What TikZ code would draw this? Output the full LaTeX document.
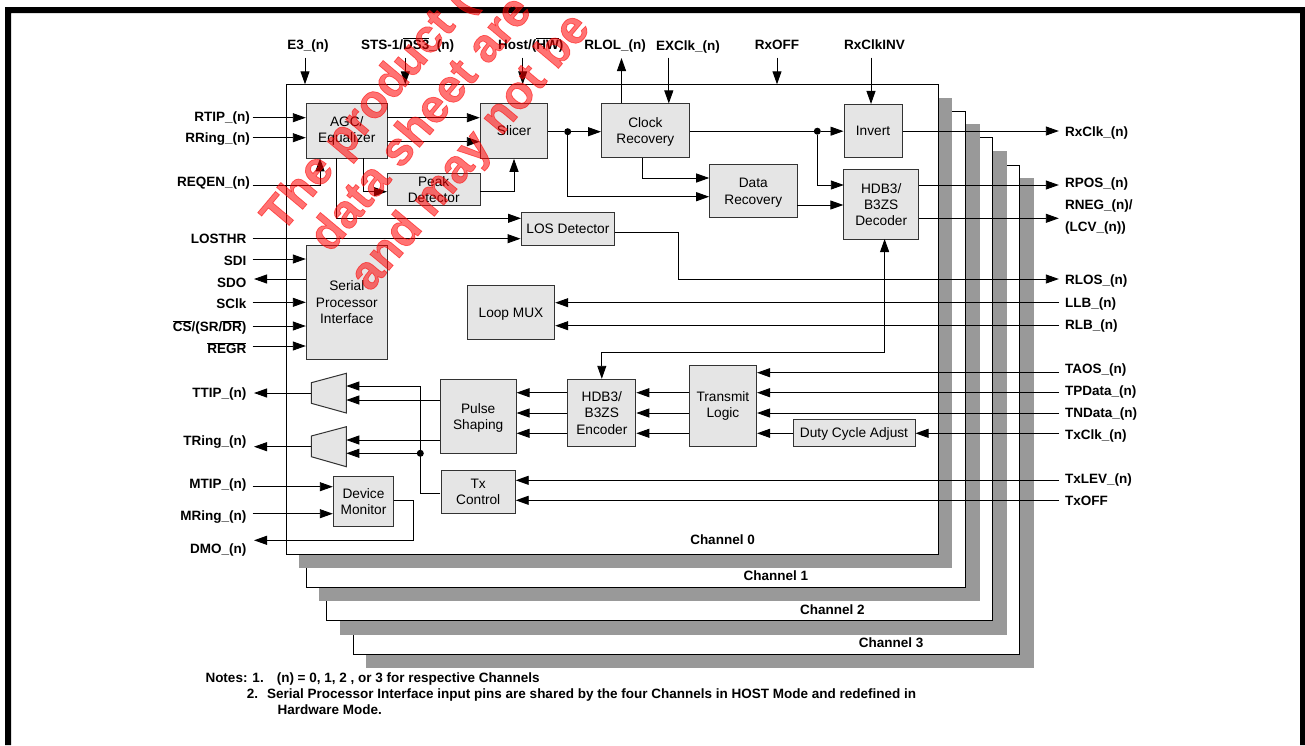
\documentclass[tikz,border=0pt]{standalone}
\usepackage{fontspec}
\setmainfont{Liberation Sans}
\newfontfamily\stampfont[FakeBold=1.5]{Liberation Sans Bold}
\usetikzlibrary{positioning,arrows.meta}

\begin{document}
\begin{tikzpicture}[x=1pt,y=-1pt,on grid,>={Triangle[length=13pt,width=9pt]},
link/.style={->,line width=.9pt},
wire/.style={line width=.9pt},
block/.style={draw=black!80,line width=1pt,fill=black!10,inner sep=0pt,align=center,
 font=\fontsize{13.7}{16.4}\selectfont},
sigl/.style={anchor=east,inner sep=0pt,text height=9.7pt,text depth=0pt,font=\fontsize{13.5}{15}\selectfont\bfseries},
sigr/.style={anchor=west,inner sep=0pt,text height=9.7pt,text depth=0pt,font=\fontsize{13.5}{15}\selectfont\bfseries},
sigt/.style={inner sep=0pt,text height=9.7pt,text depth=0pt,font=\fontsize{13.5}{15}\selectfont\bfseries},
chname/.style={inner sep=0pt,text height=9.7pt,text depth=0pt,font=\fontsize{13.5}{15}\selectfont\bfseries},
note/.style={anchor=west,inner sep=0pt,text height=9.7pt,text depth=0pt,font=\fontsize{13.5}{15}\selectfont\bfseries},
dot/.style={circle,fill=black,inner sep=0pt,minimum size=7pt},
chshadow/.style={fill=black!40},
chframe/.style={draw=black,line width=1pt,fill=white},
stamp/.style={anchor=base west,rotate=50,inner sep=0pt,text=red,text opacity=.55,
 font=\fontsize{47}{47}\stampfont}]
\useasboundingbox (0,0) rectangle (1305,745);
% page edge
\fill (5,745) -- (5,7) -- (1305,7) -- (1305,745) -- (1300,745) -- (1300,13) -- (11,13) -- (11,745) -- cycle;
% channel sheets
\fill[chshadow] (366.3,178) rectangle (1033.5,668.3);
\draw[chframe] (353.3,165) rectangle (1019.6,654);
\fill[chshadow] (339.7,151) rectangle (1007,635);
\draw[chframe] (326.7,137.7) rectangle (992.7,620.7);
\fill[chshadow] (319.3,124.3) rectangle (979.6,601);
\draw[chframe] (306.3,111) rectangle (965.8,587.3);
\fill[chshadow] (299,98) rectangle (952,568);
\draw[chframe] (286.3,84.3) rectangle (938.8,554);
\coordinate (chtop) at (286.3,84.3);
\node[chname] (ch0) at (722.5,540) {Channel 0};
\node[chname] (ch1) at (775.8,576) {Channel 1};
\node[chname] (ch2) at (832.3,610) {Channel 2};
\node[chname] (ch3) at (891,643) {Channel 3};
% blocks
\node[block,minimum width=81pt,minimum height=55pt] (agc) at (346.8,130.8) {AGC/\\Equalizer};
\node[block,minimum width=67.4pt,minimum height=55pt] (slicer) [right = 167.2pt of agc] {Slicer};
\node[block,minimum width=93.3pt,minimum height=32pt] (peak) [below right = 58.5pt and 86.9pt of agc] {Peak\\Detector};
\node[block,minimum width=93.7pt,minimum height=33.3pt] (los) [below right = 97.9pt and 53.9pt of slicer] {LOS Detector};
\node[block,minimum width=81pt,minimum height=113.7pt] (serial) [below = 171.4pt of agc] {Serial\\Processor\\Interface};
\node[block,minimum width=87.4pt,minimum height=53.6pt,text depth=0pt] (loopmux) at (511,312.5) {Loop MUX};
\node[block,minimum width=75.7pt,minimum height=73.6pt,text depth=0pt] (pulse) at (478.2,416.5) {Pulse\\Shaping};
\node[block,minimum width=74pt,minimum height=43pt] (txctl) [below = 75.3pt of pulse] {Tx\\Control};
\node[block,minimum width=60.4pt,minimum height=50pt] (devmon) at (363.5,501.7) {Device\\Monitor};
\node[block,minimum width=87.7pt,minimum height=53.7pt,text depth=0pt] (clkrec) [right = 131.4pt of slicer] {Clock\\Recovery};
\node[block,minimum width=88pt,minimum height=53.3pt,text depth=0pt] (datarec) [below right = 60.5pt and 107.9pt of clkrec] {Data\\Recovery};
\node[block,minimum width=58pt,minimum height=52.7pt] (invert) [right = 227.6pt of clkrec] {Invert};
\node[block,minimum width=74.7pt,minimum height=69.3pt] (decoder) [below right = 73.7pt and 8.2pt of invert] {HDB3/\\B3ZS\\Decoder};
\node[block,minimum width=68pt,minimum height=67.4pt] (encoder) at (601.8,413) {HDB3/\\B3ZS\\Encoder};
\node[block,minimum width=67.3pt,minimum height=81.7pt] (txlogic) at (722.9,405.9) {Transmit\\Logic};
\node[block,minimum width=122pt,minimum height=27.4pt,text depth=0pt] (duty) at (854,433) {Duty Cycle Adjust};
% output stages
\draw[draw=black!80,line width=1pt,fill=black!10] (311.3,382.7) -- (346.3,373.3) -- (346.3,413) -- (311.3,403.3) -- cycle;
\draw[draw=black!80,line width=1pt,fill=black!10] (311.3,436) -- (346.3,426.7) -- (346.3,466.7) -- (311.3,456.7) -- cycle;
\coordinate (muxatop) at (346.3,386);
\coordinate (muxabot) at (346.3,400);
\coordinate (muxbtop) at (346.3,440);
\coordinate (muxbbot) at (346.3,453.3);
\coordinate (muxaout) at (311.3,393);
\coordinate (muxbout) at (311.3,446.7);
% pin names
\node[sigt] (e3) at (308,44.5) {E3\_(n)};
\node[sigt] (sts) at (407.7,44.5) {STS-1/$\overline{\mbox{DS3}}$\_(n)};
\node[sigt] (host) at (530.7,44.5) {Host/($\overline{\mbox{HW}}$)};
\node[sigt] (rlol) at (615,44.5) {RLOL\_(n)};
\node[sigt] (exclk) at (688,46) {EXClk\_(n)};
\node[sigt] (rxoff) at (777,44.5) {RxOFF};
\node[sigt] (rxinv) at (874.6,44.5) {RxClkINV};
\node[sigl] (rtip) at (250,116.5) {RTIP\_(n)};
\node[sigl] (rring) at (250,138) {RRing\_(n)};
\node[sigl] (reqen) at (250,182) {REQEN\_(n)};
\node[sigl] (losthr) at (246.5,238.5) {LOSTHR};
\node[sigl] (sdi) at (246.5,261) {SDI};
\node[sigl] (sdo) at (246.5,283) {SDO};
\node[sigl] (sclk) at (246.5,304) {SClk};
\node[sigl] (cs) at (246.5,327) {$\overline{\mbox{CS}}$/(SR/$\overline{\mbox{DR}}$)};
\node[sigl] (regr) at (246.5,349) {$\overline{\mbox{REGR}}$};
\node[sigl] (ttip) at (246.5,393) {TTIP\_(n)};
\node[sigl] (tring) at (246.5,441) {TRing\_(n)};
\node[sigl] (mtip) at (246.5,484) {MTIP\_(n)};
\node[sigl] (mring) at (246.5,516) {MRing\_(n)};
\node[sigl] (dmo) at (246.5,549) {DMO\_(n)};
\node[sigr] (rxclk) at (1065,131.5) {RxClk\_(n)};
\node[sigr] (rpos) at (1065,183) {RPOS\_(n)};
\node[sigr] (rneg) at (1065,205) {RNEG\_(n)/};
\node[sigr] (lcv) at (1065,227) {(LCV\_(n))};
\node[sigr] (rlos) at (1065,280) {RLOS\_(n)};
\node[sigr] (llb) at (1065,303) {LLB\_(n)};
\node[sigr] (rlb) at (1065,325) {RLB\_(n)};
\node[sigr] (taos) at (1065,369) {TAOS\_(n)};
\node[sigr] (tpdata) at (1065,391) {TPData\_(n)};
\node[sigr] (tndata) at (1065,413) {TNData\_(n)};
\node[sigr] (txclk) at (1065,435) {TxClk\_(n)};
\node[sigr] (txlev) at (1065,479) {TxLEV\_(n)};
\node[sigr] (txoff) at (1065,501) {TxOFF};
% free ends of the pin lines
\coordinate (e3end) at (305,57.7);
\coordinate (stsend) at (405.3,57.7);
\coordinate (hostend) at (522.7,57.7);
\coordinate (rlolend) at (621.5,58);
\coordinate (exclkend) at (668.8,57.7);
\coordinate (rxoffend) at (777,57.7);
\coordinate (rxinvend) at (871,57.7);
\coordinate (rtipend) at (252.7,117.7);
\coordinate (rringend) at (252.7,137.7);
\coordinate (reqenend) at (252.7,185);
\coordinate (losthrend) at (252.7,238.7);
\coordinate (sdiend) at (252.7,259);
\coordinate (sdoend) at (254,279);
\coordinate (sclkend) at (252.7,302.3);
\coordinate (csend) at (252.7,326);
\coordinate (regrend) at (252.7,346);
\coordinate (ttipend) at (254,393);
\coordinate (tringend) at (254,446.7);
\coordinate (mtipend) at (252.7,486.7);
\coordinate (mringend) at (252.7,513.7);
\coordinate (dmoend) at (254,540.3);
\coordinate (rxclkend) at (1058.8,131);
\coordinate (rposend) at (1058.8,185);
\coordinate (rnegend) at (1058.8,218.3);
\coordinate (rlosend) at (1058.8,279);
\coordinate (llbend) at (1059,302.7);
\coordinate (rlbend) at (1059,325.7);
\coordinate (taosend) at (1059,372.7);
\coordinate (tpdataend) at (1059,392.7);
\coordinate (tndataend) at (1059,413);
\coordinate (txclkend) at (1059,433.3);
\coordinate (txlevend) at (1059,480.3);
\coordinate (txoffend) at (1059,500.3);
% taps on the blocks
\coordinate (agcreq) at (320,158.3);
\coordinate (agcpeak) at (363.3,158.3);
\coordinate (agclos) at (336.3,158.3);
\coordinate (agcupper) at (387.3,117.7);
\coordinate (agclower) at (387.3,141.7);
\coordinate (peakin) at (387,191.7);
\coordinate (peakout) at (480.3,191.7);
\coordinate (losin) at (521,218.3);
\coordinate (losout) at (614.7,232);
\coordinate (clkout) at (642,158);
\coordinate (clkdata) at (709.2,178);
\coordinate (slicdata) at (709.2,196.7);
\coordinate (decin) at (843.8,185);
\coordinate (dataout) at (797.3,205);
\coordinate (decpin) at (884.6,239);
\coordinate (txctlout) at (440.3,493.3);
\coordinate (devout) at (393.7,500.3);
\node[dot] (slicdot) at (567.7,131.7) {};
\node[dot] (clkdot) at (817.3,131.2) {};
\node[dot] (txdot) at (420.3,453.3) {};
% top side
\draw[link] (e3end) -- (e3end |- chtop);
\draw[link] (stsend) -- (stsend |- chtop);
\draw[link] (hostend) -- (hostend |- chtop);
\draw[link] (rxoffend) -- (rxoffend |- chtop);
\draw[link] (clkrec.north -| rlolend) -- (rlolend);
\draw[link] (exclkend) -- (exclkend |- clkrec.north);
\draw[link] (rxinvend) -- (rxinvend |- invert.north);
% receive path
\draw[link] (rtipend) -- (rtipend -| agc.west);
\draw[link] (rringend) -- (rringend -| agc.west);
\draw[link] (reqenend) -| (agcreq);
\draw[link] (agcupper) -- (agcupper -| slicer.west);
\draw[link] (agclower) -- (agclower -| slicer.west);
\draw[link] (agcpeak) |- (peakin);
\draw[link] (peakout) -| (slicer.south);
\draw[link] (agclos) |- (losin);
\draw[link] (losthrend) -- (losthrend -| los.west);
\draw[link] (losout) -- ++(63.8,0) |- (rlosend);
\draw[wire] (slicer.east |- slicdot) -- (slicdot);
\draw[link] (slicdot) -- (slicdot -| clkrec.west);
\draw[link] (slicdot) |- (slicdata);
\draw[link] (clkout) |- (clkdata);
\draw[wire] (clkrec.east |- clkdot) -- (clkdot);
\draw[link] (clkdot) -- (clkdot -| invert.west);
\draw[link] (clkdot) |- (decin);
\draw[link] (dataout) -- (dataout -| decoder.west);
\draw[link] (invert.east |- rxclkend) -- (rxclkend);
\draw[link] (decoder.east |- rposend) -- (rposend);
\draw[link] (decoder.east |- rnegend) -- (rnegend);
\draw[link] (llbend) -- (llbend -| loopmux.east);
\draw[link] (rlbend) -- (rlbend -| loopmux.east);
\draw[<->,line width=.9pt] (decpin) -- ++(0,113.3) -| (encoder.north);
% serial port
\draw[link] (sdiend) -- (sdiend -| serial.west);
\draw[link] (serial.west |- sdoend) -- (sdoend);
\draw[link] (sclkend) -- (sclkend -| serial.west);
\draw[link] (csend) -- (csend -| serial.west);
\draw[link] (regrend) -- (regrend -| serial.west);
% transmit path
\draw[link] (taosend) -- (taosend -| txlogic.east);
\draw[link] (tpdataend) -- (tpdataend -| txlogic.east);
\draw[link] (tndataend) -- (tndataend -| txlogic.east);
\draw[link] (txclkend) -- (txclkend -| duty.east);
\draw[link] (duty.west |- txclkend) -- (txclkend -| txlogic.east);
\draw[link] (txlogic.west |- tpdataend) -- (tpdataend -| encoder.east);
\draw[link] (txlogic.west |- tndataend) -- (tndataend -| encoder.east);
\draw[link] (txlogic.west |- txclkend) -- (txclkend -| encoder.east);
\draw[link] (encoder.west |- tpdataend) -- (tpdataend -| pulse.east);
\draw[link] (encoder.west |- tndataend) -- (tndataend -| pulse.east);
\draw[link] (encoder.west |- txclkend) -- (txclkend -| pulse.east);
\draw[link] (pulse.west |- muxabot) -- (muxabot);
\draw[link] (pulse.west |- muxbtop) -- (muxbtop);
\draw[link] (txctlout) -- ++(-20,0) |- (muxatop);
\draw[link] (txdot) -- (muxbbot);
\draw[link] (muxaout) -- (ttipend);
\draw[link] (muxbout) -- (tringend);
\draw[link] (txlevend) -- (txlevend -| txctl.east);
\draw[link] (txoffend) -- (txoffend -| txctl.east);
% monitor
\draw[link] (mtipend) -- (mtipend -| devmon.west);
\draw[link] (mringend) -- (mringend -| devmon.west);
\draw[link] (devout) -- ++(19.6,0) |- (dmoend);
% notes
\node[note] (note1) at (205.3,678) {Notes: 1.\hspace{8pt} (n) = 0, 1, 2 , or 3 for respective Channels};
\node[note] (note2) at (246.7,694) {2.\hspace{4pt} Serial Processor Interface input pins are shared by the four Channels in HOST Mode and redefined in};
\node[note] (note3) at (277.3,710) {Hardware Mode.};
% stamp
\node[stamp] (stamp1) at (282,234) {The product (};
\node[stamp] (stamp2) at (330,254) {data sheet are};
\node[stamp] (stamp3) at (370,293) {and may not be};
\end{tikzpicture}
\end{document}
